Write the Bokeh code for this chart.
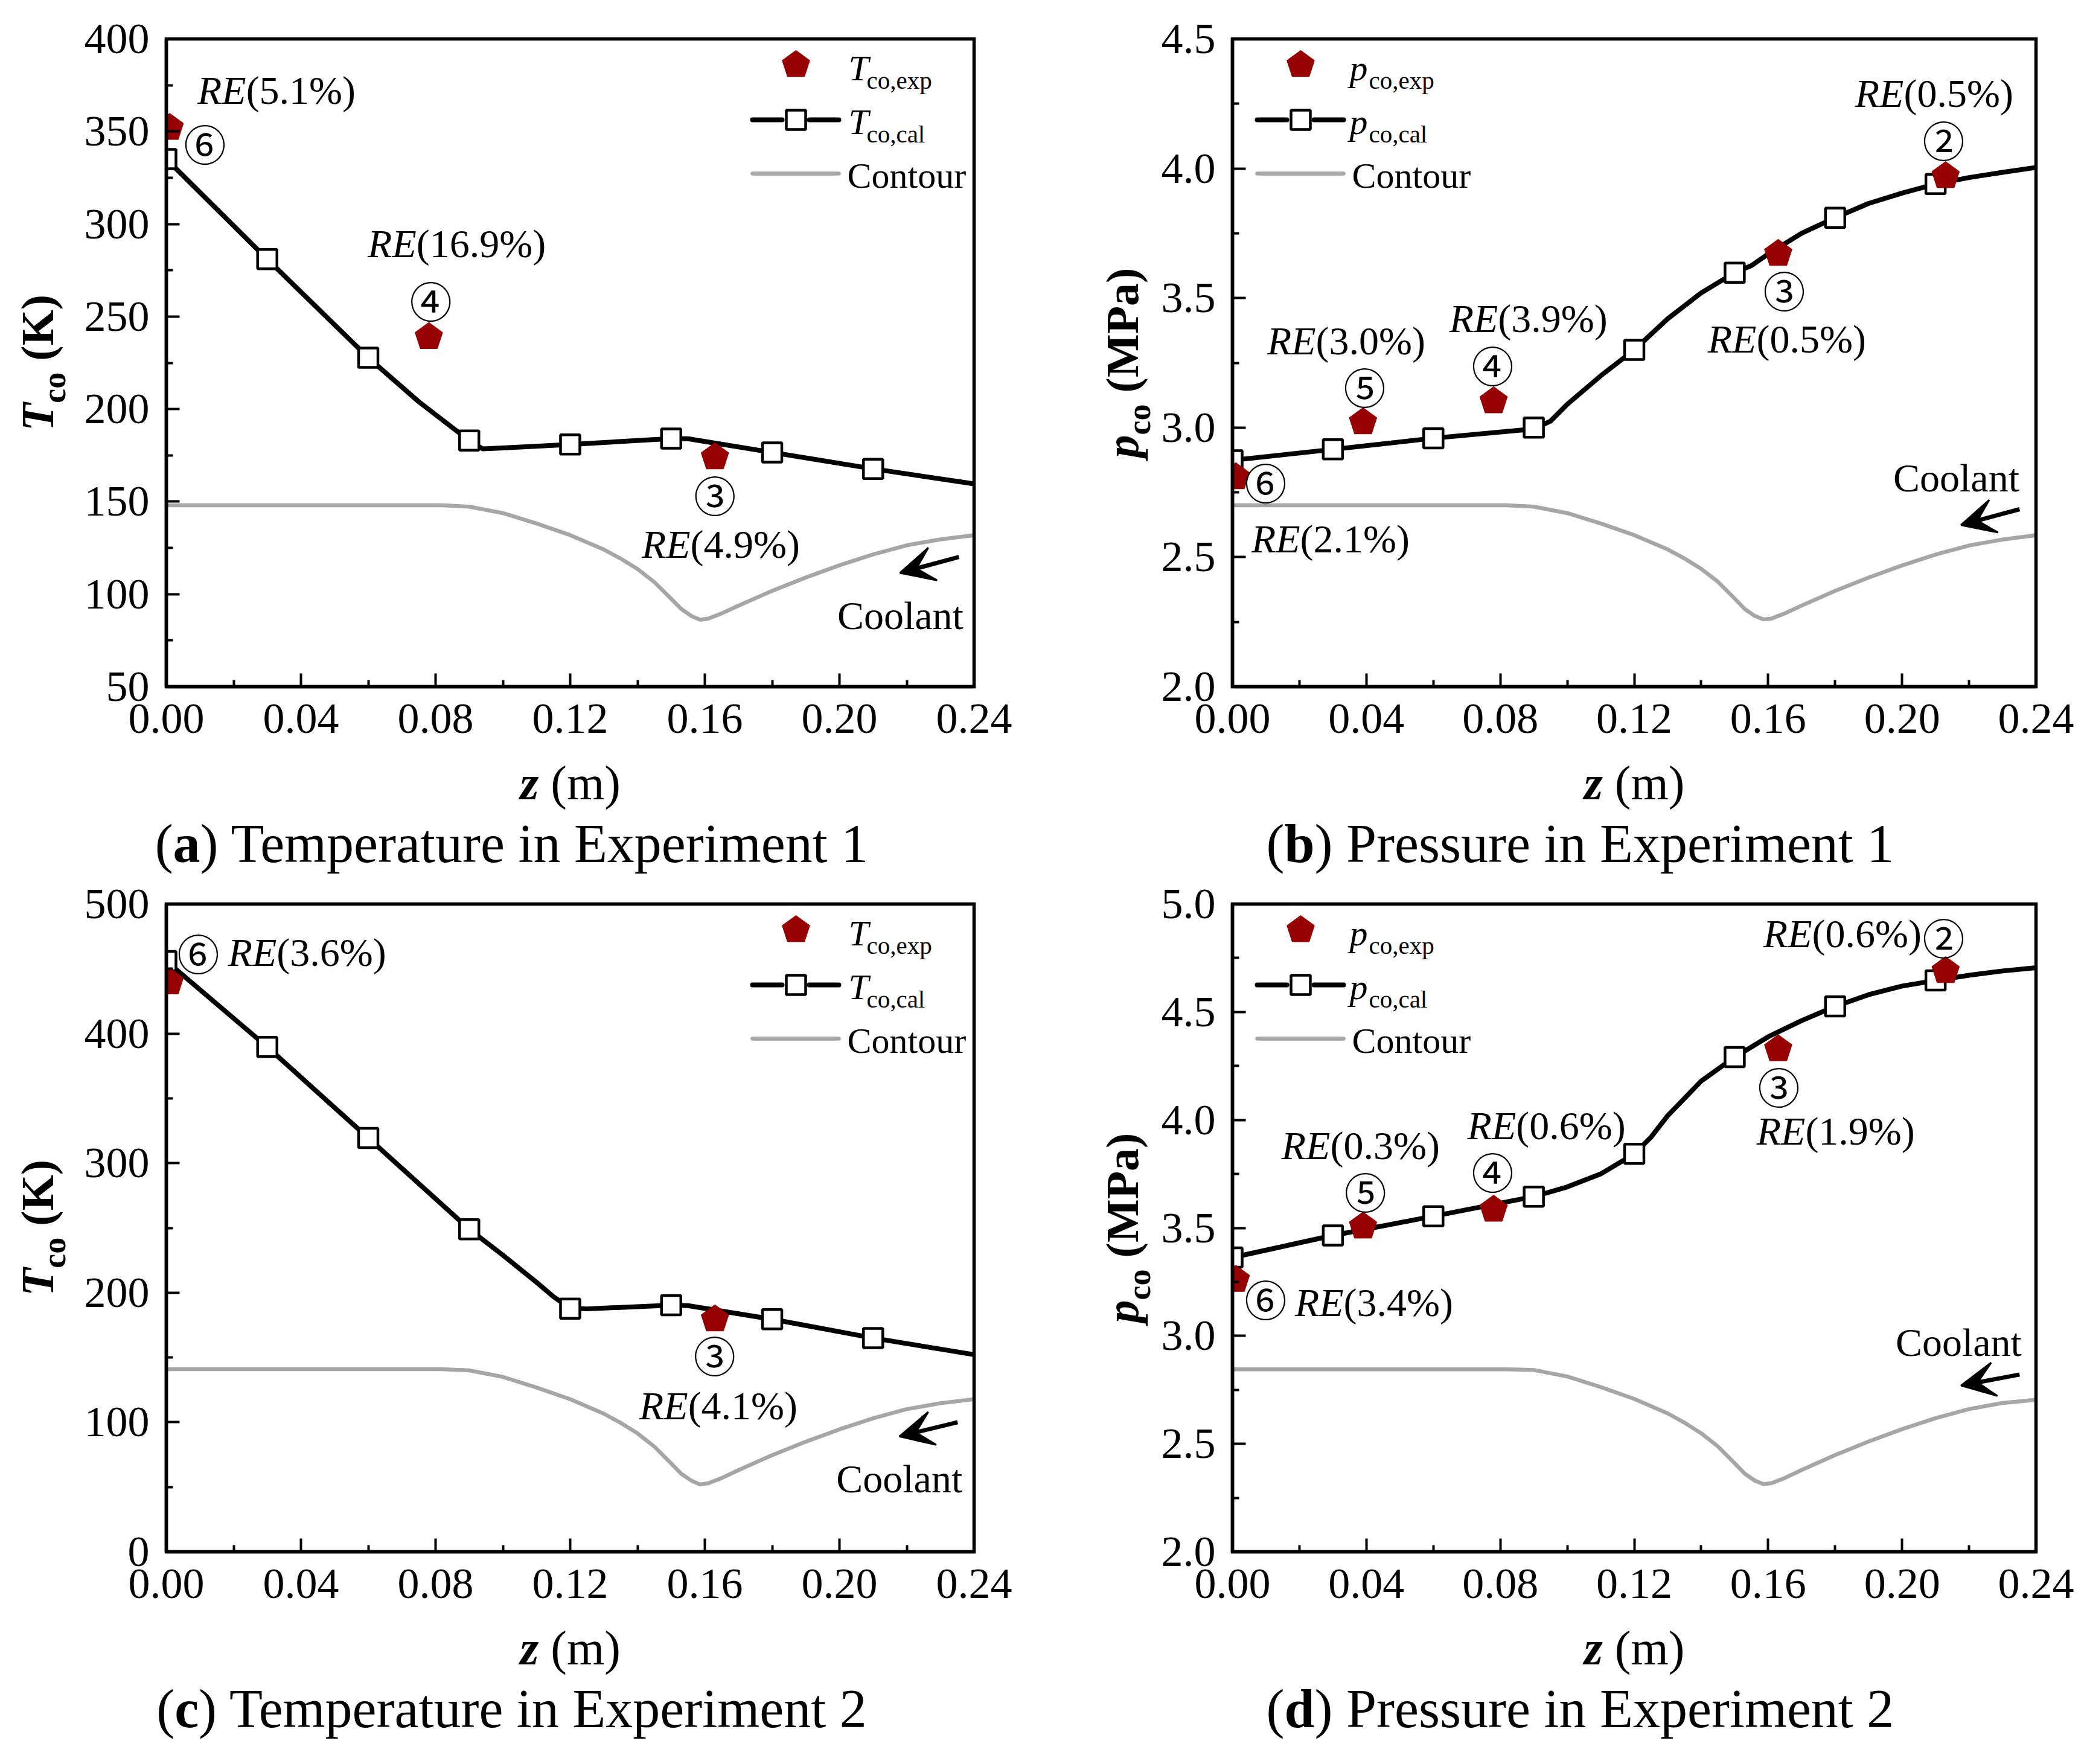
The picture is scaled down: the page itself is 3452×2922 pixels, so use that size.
import math
from bokeh.plotting import figure
from bokeh.models import Range1d, FixedTicker, NumeralTickFormatter, Label, Arrow, VeeHead
from bokeh.layouts import column, row
from bokeh.embed import file_html
from bokeh.resources import INLINE

# ---------------- data ----------------
x_ticks = [0.0, 0.04, 0.08, 0.12, 0.16, 0.20, 0.24]
x_minor = [0.02, 0.06, 0.10, 0.14, 0.18, 0.22]

z_sq = [0.0, 0.03, 0.06, 0.09, 0.12, 0.15, 0.18, 0.21]

# (a) temperature, experiment 1
a_yticks = [50, 100, 150, 200, 250, 300, 350, 400]
a_yminor = [75, 125, 175, 225, 275, 325, 375]
a_z_line = [0.0, 0.03, 0.06, 0.075, 0.085, 0.09, 0.094, 0.10, 0.12, 0.15, 0.155, 0.18, 0.21, 0.24]
a_T_line = [335.1, 281, 227.8, 204, 190, 183, 178.5, 179, 180.9, 184.1, 184, 176.6, 167.7, 159.6]
a_T_sq = [335.1, 281, 227.8, 183, 180.9, 184.1, 176.6, 167.7]
a_z_exp = [0.001, 0.078, 0.163]
a_T_exp = [352, 239, 174]
a_z_cont = [0.0, 0.082, 0.09, 0.10, 0.11, 0.12, 0.13, 0.135, 0.14, 0.145, 0.15, 0.153, 0.156, 0.1586, 0.161, 0.165, 0.17, 0.18, 0.19, 0.20, 0.21, 0.22, 0.23, 0.24]
a_T_cont = [148, 148, 147.3, 143.8, 138.2, 131.9, 124.1, 119.2, 113.6, 106.5, 97.5, 92.0, 88.2, 86.2, 86.8, 89.6, 93.8, 101.8, 109.0, 115.6, 121.5, 126.4, 129.6, 131.9]
a_circ = [("⑥", 0.0115, 344), ("④", 0.0786, 259), ("③", 0.163, 154)]
a_re = [(0.0237, 366.4, "(5.1%)"), (0.0743, 283.5, "(16.9%)"), (0.1557, 120.8, "(4.9%)")]
a_cool = (0.2181, 82.6)
a_arrow = (0.2355, 120.1, 0.218, 111.5)

# (b) pressure, experiment 1
b_yticks = [2.0, 2.5, 3.0, 3.5, 4.0, 4.5]
b_yminor = [2.25, 2.75, 3.25, 3.75, 4.25]
b_z_line = [0.0, 0.03, 0.06, 0.09, 0.095, 0.10, 0.11, 0.12, 0.13, 0.14, 0.15, 0.155, 0.16, 0.17, 0.18, 0.19, 0.20, 0.21, 0.22, 0.23, 0.24]
b_p_line = [2.874, 2.916, 2.959, 2.995, 3.025, 3.09, 3.20, 3.30, 3.42, 3.52, 3.598, 3.625, 3.67, 3.75, 3.81, 3.865, 3.905, 3.94, 3.965, 3.985, 4.004]
b_p_sq = [2.874, 2.916, 2.959, 3.0, 3.30, 3.598, 3.81, 3.94]
b_z_exp = [0.001, 0.039, 0.078, 0.163, 0.213]
b_p_exp = [2.809, 3.021, 3.102, 3.671, 3.971]
b_z_cont = [0.0, 0.082, 0.09, 0.10, 0.11, 0.12, 0.13, 0.135, 0.14, 0.145, 0.15, 0.153, 0.156, 0.1586, 0.161, 0.165, 0.17, 0.18, 0.19, 0.20, 0.21, 0.22, 0.23, 0.24]
b_p_cont = [2.70, 2.70, 2.695, 2.67, 2.63, 2.585, 2.53, 2.495, 2.455, 2.405, 2.34, 2.30, 2.273, 2.26, 2.263, 2.283, 2.313, 2.37, 2.421, 2.468, 2.51, 2.545, 2.568, 2.585]
b_circ = [("⑥", 0.0099, 2.792), ("⑤", 0.0395, 3.160), ("④", 0.0777, 3.244), ("③", 0.1648, 3.533), ("②", 0.2124, 4.113)]
b_re = [(0.0202, 2.527, "(2.1%)"), (0.0249, 3.291, "(3.0%)"), (0.0793, 3.378, "(3.9%)"), (0.1565, 3.298, "(0.5%)"), (0.2005, 4.248, "(0.5%)")]
b_cool = (0.2162, 2.764)
b_arrow = (0.2351, 2.685, 0.2176, 2.624)

# (c) temperature, experiment 2
c_yticks = [0, 100, 200, 300, 400, 500]
c_yminor = [50, 150, 250, 350, 450]
c_z_line = [0.0, 0.03, 0.06, 0.09, 0.10, 0.11, 0.115, 0.12, 0.125, 0.15, 0.155, 0.18, 0.21, 0.24]
c_T_line = [456, 389.7, 319.4, 249, 229, 208, 197, 188, 187.5, 190.4, 190, 179.5, 165, 152.2]
c_T_sq = [456, 389.7, 319.4, 249, 187.7, 190.4, 179.5, 165]
c_z_exp = [0.001, 0.163]
c_T_exp = [439.6, 179.5]
c_z_cont = [0.0, 0.082, 0.09, 0.10, 0.11, 0.12, 0.13, 0.135, 0.14, 0.145, 0.15, 0.153, 0.156, 0.1586, 0.161, 0.165, 0.17, 0.18, 0.19, 0.20, 0.21, 0.22, 0.23, 0.24]
c_T_cont = [141, 141, 140.0, 135.0, 126.8, 117.8, 106.6, 99.5, 91.4, 81.2, 68.2, 60.2, 54.9, 52.0, 52.9, 56.9, 63.0, 74.6, 85.0, 94.5, 103.0, 110.1, 114.7, 117.8]
c_circ = [("⑥", 0.0095, 462.8), ("③", 0.1629, 152.2)]
c_re = [(0.0328, 453.9, "(3.6%)"), (0.155, 104.3, "(4.1%)")]
c_cool = (0.2178, 47.9)
c_arrow = (0.2351, 100.0, 0.2178, 89.1)

# (d) pressure, experiment 2
d_yticks = [2.0, 2.5, 3.0, 3.5, 4.0, 4.5, 5.0]
d_yminor = [2.25, 2.75, 3.25, 3.75, 4.25, 4.75]
d_z_line = [0.0, 0.03, 0.06, 0.09, 0.10, 0.11, 0.12, 0.125, 0.13, 0.14, 0.15, 0.16, 0.17, 0.18, 0.19, 0.20, 0.21, 0.22, 0.23, 0.24]
d_p_line = [3.363, 3.465, 3.554, 3.645, 3.69, 3.75, 3.843, 3.92, 4.02, 4.18, 4.291, 4.385, 4.46, 4.526, 4.58, 4.62, 4.646, 4.67, 4.69, 4.705]
d_p_sq = [3.363, 3.465, 3.554, 3.645, 3.843, 4.291, 4.526, 4.646]
d_z_exp = [0.001, 0.039, 0.078, 0.163, 0.213]
d_p_exp = [3.26, 3.507, 3.585, 4.328, 4.69]
d_z_cont = [0.0, 0.082, 0.09, 0.10, 0.11, 0.12, 0.13, 0.135, 0.14, 0.145, 0.15, 0.153, 0.156, 0.1586, 0.161, 0.165, 0.17, 0.18, 0.19, 0.20, 0.21, 0.22, 0.23, 0.24]
d_p_cont = [2.845, 2.845, 2.842, 2.812, 2.763, 2.708, 2.641, 2.598, 2.549, 2.488, 2.410, 2.362, 2.330, 2.313, 2.318, 2.342, 2.379, 2.448, 2.511, 2.568, 2.619, 2.661, 2.689, 2.704]
d_circ = [("⑥", 0.0099, 3.173), ("⑤", 0.0397, 3.673), ("④", 0.0777, 3.763), ("③", 0.1632, 4.159), ("②", 0.2124, 4.849)]
d_re = [(0.0332, 3.103, "(3.4%)"), (0.0292, 3.830, "(0.3%)"), (0.0847, 3.922, "(0.6%)"), (0.1711, 3.897, "(1.9%)"), (0.1731, 4.810, "(0.6%)")]
d_cool = (0.2169, 2.919)
d_arrow = (0.2351, 2.821, 0.2176, 2.770)

captions = [("a", "Temperature in Experiment 1"), ("b", "Pressure in Experiment 1"),
            ("c", "Temperature in Experiment 2"), ("d", "Pressure in Experiment 2")]

# ---------------- style ----------------
SERIF = "Liberation Serif"
CJK = "Noto Sans CJK SC"
RED = "#960000"
GRAY = "#a6a6a6"
BASE_SHIFT = 0.28   # em: lift applied to alphabetic-baseline labels

REG = {' ': .25, '(': .333, ')': .333, '%': .833, '.': .25, ',': .25, 'a': .444, 'c': .444, 'e': .444,
       'i': .278, 'l': .278, 'm': .778, 'n': .5, 'o': .5, 'p': .5, 'r': .333, 's': .389, 't': .278,
       'u': .5, 'x': .5, 'C': .667, 'E': .611, 'K': .722, 'M': .889, 'P': .556, 'T': .611}
BOLD = {' ': .25, '(': .333, ')': .333, 'a': .5, 'b': .556, 'c': .444, 'd': .556, 'o': .5,
        'K': .778, 'M': .944, 'P': .611}
BOLDITAL = {'T': .611, 'p': .5, 'z': .389}


def tw(s, table, size):
    return sum(table.get(ch, 0.5) for ch in s) * size


BH = 1073      # plot-box height (px)
COLS = [dict(W=1726, BX=275, BW=1338), dict(W=1710, BX=315, BW=1331)]
ROWS = [dict(H=1455, BT=64), dict(H=1459, BT=42)]
XMAX = 0.24
CAP_Y = 285    # caption baseline below the plot box (px)


class Panel:
    """A figure whose frame is the whole panel; the axes box is placed with fixed-location axes."""

    def __init__(self, col, rowi, yr):
        c = COLS[col]
        r = ROWS[rowi]
        self.W, self.H, self.BT = c["W"], r["H"], r["BT"]
        self.BX, self.BW = c["BX"], c["BW"]
        self.y0, self.y1 = yr
        dy = self.y1 - self.y0
        xr = Range1d(-self.BX / self.BW * XMAX, XMAX + (self.W - self.BX - self.BW) / self.BW * XMAX)
        yrng = Range1d(self.y0 - (self.H - self.BT - BH) / BH * dy, self.y1 + self.BT / BH * dy)
        self.fig = figure(frame_width=self.W, frame_height=self.H, x_range=xr, y_range=yrng,
                          output_backend="svg", toolbar_location=None, title=None,
                          min_border=0, min_border_left=0, min_border_right=0,
                          min_border_top=0, min_border_bottom=0)

    def zx(self, rel):
        return rel / self.BW * XMAX

    def yv(self, rel):
        return self.y1 - rel / BH * (self.y1 - self.y0)

    def sx(self):
        return self.BW / XMAX

    def sy(self):
        return BH / (self.y1 - self.y0)

    def label(self, x, y, text, size, style="normal", font=SERIF, align="left", baseline="alphabetic", angle=0.0):
        if baseline == "alphabetic":
            lift = BASE_SHIFT * size
            if angle:
                x = x - lift / self.sx()
            else:
                y = y + lift / self.sy()
        self.fig.add_layout(Label(x=x, y=y, x_units="data", y_units="data", text=text, text_font=font,
                                  text_font_size=f"{size}px", text_font_style=style, text_align=align,
                                  text_baseline=baseline, angle=angle, text_color="black"))

    def rlabel(self, relx, rely, text, size, **kw):
        self.label(self.zx(relx), self.yv(rely), text, size, **kw)

    def pentagons(self, xs, ys, R=24):
        pxs, pys = [], []
        for x, y in zip(xs, ys):
            ang = [math.radians(90 + 72 * k) for k in range(5)]
            pxs.append([x + R * math.cos(a) / self.sx() for a in ang])
            pys.append([y + R * math.sin(a) / self.sy() for a in ang])
        self.fig.patches(pxs, pys, fill_color=RED, line_color=RED, line_width=1)


def build(col, rowi, yr, yticks, yminor, yfmt, z_line, v_line, v_sq, z_exp, v_exp, z_cont, v_cont,
          circ, re_list, cool, arrow, sym, unit, cap):
    P = Panel(col, rowi, yr)
    p = P.fig
    p.background_fill_color = "white"
    p.border_fill_color = "white"
    p.grid.visible = False
    p.outline_line_color = None
    p.xaxis.ticker = FixedTicker(ticks=x_ticks, minor_ticks=x_minor)
    p.yaxis.ticker = FixedTicker(ticks=yticks, minor_ticks=yminor)
    p.xaxis.formatter = NumeralTickFormatter(format="0.00")
    p.yaxis.formatter = NumeralTickFormatter(format=yfmt)
    p.xaxis.fixed_location = P.y0
    p.xaxis.bounds = (0.0, XMAX)
    p.yaxis.fixed_location = 0.0
    p.yaxis.bounds = (P.y0, P.y1)
    for ax in (p.xaxis[0], p.yaxis[0]):
        ax.axis_line_width = 5.5
        ax.major_tick_line_width = 4
        ax.minor_tick_line_width = 4
        ax.major_tick_in = 22
        ax.major_tick_out = 0
        ax.minor_tick_in = 11
        ax.minor_tick_out = 0
        ax.major_label_text_font = SERIF
        ax.major_label_text_font_size = "72px"
        ax.major_label_text_color = "black"
    p.xaxis.major_label_standoff = 29
    p.yaxis.major_label_standoff = 28

    # data
    p.line(z_cont, v_cont, line_color=GRAY, line_width=6.5, line_join="round")
    p.line(z_line, v_line, line_color="black", line_width=8, line_join="round")
    p.scatter(z_sq, v_sq, marker="square", size=32, fill_color="white", line_color="black", line_width=4.5)
    P.pentagons(z_exp, v_exp)

    # clip marks at the left edge of the axes box (white strip under the axis)
    p.quad(left=[P.zx(-25)], right=[0.0], bottom=[P.y0], top=[P.y1], fill_color="white", line_color=None)
    # axes box outline
    p.quad(left=[0.0], right=[XMAX], bottom=[P.y0], top=[P.y1], fill_color=None, line_color="black",
           line_width=5.5, line_join="miter")

    # legend
    L = 971 if col == 0 else 41
    tx = L + (159 if sym == "T" else 153)
    sub_dx = 30 if sym == "T" else 32
    P.pentagons([P.zx(L + 72)], [P.yv(43)])
    p.line([P.zx(L), P.zx(L + 49)], [P.yv(134)] * 2, line_color="black", line_width=8, line_cap="round")
    p.line([P.zx(L + 94), P.zx(L + 143)], [P.yv(134)] * 2, line_color="black", line_width=8, line_cap="round")
    p.scatter([P.zx(L + 72)], [P.yv(134)], marker="square", size=32, fill_color="white", line_color="black", line_width=4.5)
    p.line([P.zx(L), P.zx(L + 143)], [P.yv(223)] * 2, line_color=GRAY, line_width=6.5, line_cap="round")
    for base, sub in ((65, "co,exp"), (154, "co,cal")):
        P.rlabel(tx, base, sym, 60, style="italic")
        P.rlabel(tx + sub_dx, base + 15, sub, 41)
    P.rlabel(L + 157, 243, "Contour", 60)

    # annotations
    for ch, x, y in circ:
        P.label(x, y, ch, 70, font=CJK, align="center", baseline="middle")
    for x, y, txt in re_list:
        P.label(x, y, "RE", 66, style="italic", align="right")
        P.label(x, y, txt, 66)
    P.label(cool[0], cool[1], "Coolant", 66, align="center")
    p.add_layout(Arrow(end=VeeHead(size=56, fill_color="black", line_color="black", line_width=3),
                       x_start=arrow[0], y_start=arrow[1], x_end=arrow[2], y_end=arrow[3],
                       line_width=7, line_color="black"))

    # x axis label
    wz = tw("z", BOLDITAL, 80)
    wsp = tw(" ", REG, 80)
    wm = tw("(m)", REG, 80)
    sx0 = P.BW / 2 - (wz + wsp + wm) / 2
    P.rlabel(sx0, BH + 182, "z", 80, style="bold italic")
    P.rlabel(sx0 + wz + wsp, BH + 182, "(m)", 80)

    # y axis label (rotated)
    ys_ = 76
    w1 = tw(sym, BOLDITAL, ys_)
    w2 = tw("co", BOLD, 54)
    w3 = tw(" ", BOLD, ys_)
    w4 = tw(unit, BOLD, ys_)
    tot = w1 + w2 + w3 + w4
    bx = -192 if sym == "T" else -161
    bottom = BH / 2 + tot / 2
    P.rlabel(bx, bottom, sym, ys_, style="bold italic", angle=math.pi / 2)
    P.rlabel(bx + 22, bottom - w1, "co", 54, style="bold", angle=math.pi / 2)
    P.rlabel(bx, bottom - w1 - w2 - w3, unit, ys_, style="bold", angle=math.pi / 2)

    # caption
    letter, rest = cap
    rest = ") " + rest
    c1 = tw("(", REG, 90)
    c2 = tw(letter, BOLD, 90)
    c3 = tw(rest, REG, 90)
    cx0 = 576 - (c1 + c2 + c3) / 2
    P.rlabel(cx0, BH + CAP_Y, "(", 90)
    P.rlabel(cx0 + c1, BH + CAP_Y, letter, 90, style="bold")
    P.rlabel(cx0 + c1 + c2, BH + CAP_Y, rest, 90)
    return p


pa = build(0, 0, (50, 400), a_yticks, a_yminor, "0", a_z_line, a_T_line, a_T_sq, a_z_exp, a_T_exp,
           a_z_cont, a_T_cont, a_circ, a_re, a_cool, a_arrow, "T", "(K)", captions[0])
pb = build(1, 0, (2.0, 4.5), b_yticks, b_yminor, "0.0", b_z_line, b_p_line, b_p_sq, b_z_exp, b_p_exp,
           b_z_cont, b_p_cont, b_circ, b_re, b_cool, b_arrow, "p", "(MPa)", captions[1])
pc = build(0, 1, (0, 500), c_yticks, c_yminor, "0", c_z_line, c_T_line, c_T_sq, c_z_exp, c_T_exp,
           c_z_cont, c_T_cont, c_circ, c_re, c_cool, c_arrow, "T", "(K)", captions[2])
pd = build(1, 1, (2.0, 5.0), d_yticks, d_yminor, "0.0", d_z_line, d_p_line, d_p_sq, d_z_exp, d_p_exp,
           d_z_cont, d_p_cont, d_circ, d_re, d_cool, d_arrow, "p", "(MPa)", captions[3])

layout = column(row(pa, pb), row(pc, pd))
open("out.html", "w").write(file_html(layout, INLINE))
